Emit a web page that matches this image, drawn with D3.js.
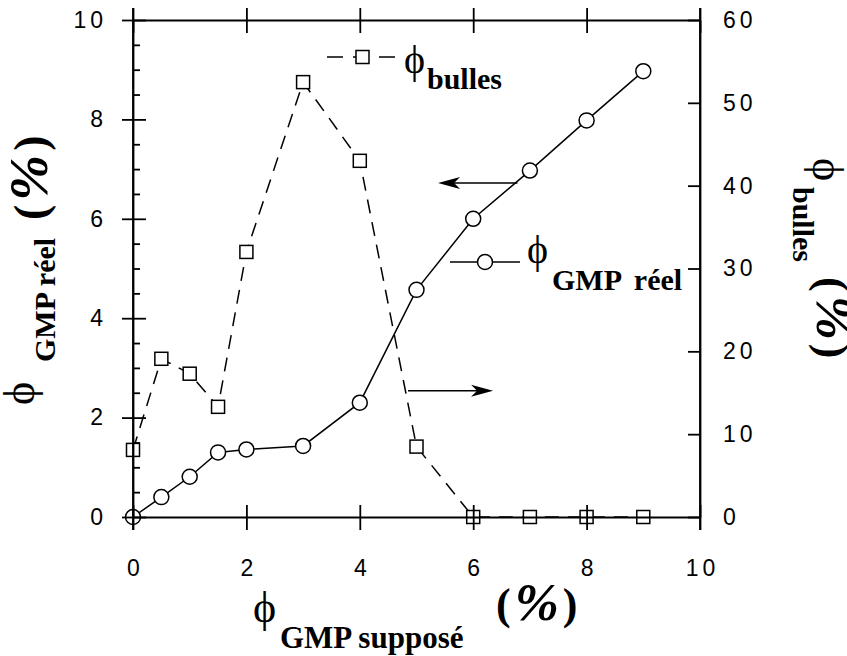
<!DOCTYPE html>
<html>
<head>
<meta charset="utf-8">
<script src="https://cdn.jsdelivr.net/npm/d3@7"></script>
<style>
  body { margin: 0; background: #fff; }
  text { fill: #000; }
</style>
</head>
<body>
<svg id="chart" width="847" height="656"></svg>
<script>
// values
var gmpSuppose = [0, 0.5, 1, 1.5, 2, 3, 4, 5, 6, 7, 8, 9];
var gmpReel = [0, 0.4, 0.81, 1.3, 1.36, 1.43, 2.3, 4.57, 6.0, 6.97, 7.98, 8.97];
var bulles = [8.1, 19.1, 17.3, 13.3, 32.0, 52.5, 43.0, 8.5, 0, 0, 0, 0];
var xTicks = [0, 2, 4, 6, 8, 10];
var yLeftTicks = [0, 2, 4, 6, 8, 10];
var yRightTicks = [0, 10, 20, 30, 40, 50, 60];

var svg = d3.select("#chart");
var plotLeft = 133, plotRight = 700, plotTop = 20, plotBottom = 517;

var x = d3.scaleLinear().domain([0, 10]).range([plotLeft, plotRight]);
var yL = d3.scaleLinear().domain([0, 10]).range([plotBottom, plotTop]);
var yR = d3.scaleLinear().domain([0, 60]).range([plotBottom, plotTop]);

var serif = "'Liberation Serif', 'Times New Roman', 'DejaVu Serif', serif";
var sans = "'Liberation Sans', Arial, Helvetica, sans-serif";

// dashed line for bulles (right axis)
svg.append("path")
    .datum(gmpSuppose.map((d, i) => [d, bulles[i]]))
    .attr("fill", "none")
    .attr("stroke", "#000")
    .attr("stroke-width", 1.5)
    .attr("stroke-dasharray", "14,9")
    .attr("d", d3.line().x(d => x(d[0])).y(d => yR(d[1])));

// solid line for GMP reel (left axis)
svg.append("path")
    .datum(gmpSuppose.map((d, i) => [d, gmpReel[i]]))
    .attr("fill", "none")
    .attr("stroke", "#000")
    .attr("stroke-width", 1.5)
    .attr("d", d3.line().x(d => x(d[0])).y(d => yL(d[1])));

// square markers
svg.selectAll(".sq")
    .data(gmpSuppose)
    .enter().append("rect")
    .attr("class", "sq")
    .attr("x", d => x(d) - 6.5)
    .attr("y", (d, i) => yR(bulles[i]) - 6.5)
    .attr("width", 13)
    .attr("height", 13)
    .attr("fill", "#fff")
    .attr("stroke", "#000")
    .attr("stroke-width", 1.5);

// circle markers
svg.selectAll(".ci")
    .data(gmpSuppose)
    .enter().append("circle")
    .attr("class", "ci")
    .attr("cx", d => x(d))
    .attr("cy", (d, i) => yL(gmpReel[i]))
    .attr("r", 7.5)
    .attr("fill", "#fff")
    .attr("stroke", "#000")
    .attr("stroke-width", 1.5);

// axes (drawn on top, ticks cross the frame)
function styleAxis(g) {
    g.select(".domain").attr("stroke-width", 1.8);
    g.selectAll(".tick line").attr("stroke-width", 1.8);
    g.selectAll("text")
        .style("font-family", sans)
        .style("font-size", "23px")
        .style("letter-spacing", "4px");
}

var gBottom = svg.append("g")
    .attr("transform", `translate(0,${plotBottom})`)
    .call(d3.axisBottom(x).tickValues(xTicks).tickSize(13).tickSizeOuter(0).tickPadding(30).tickFormat(d3.format("d")))
    .call(styleAxis);
gBottom.selectAll(".tick line").attr("y1", -12);
gBottom.selectAll(".tick text").attr("dx", 2);

var gTop = svg.append("g")
    .attr("transform", `translate(0,${plotTop})`)
    .call(d3.axisTop(x).tickValues(xTicks).tickSize(12).tickSizeOuter(0).tickFormat(""))
    .call(styleAxis);
gTop.selectAll(".tick line").attr("y1", 13);

var gLeft = svg.append("g")
    .attr("transform", `translate(${plotLeft},0)`)
    .call(d3.axisLeft(yL).tickValues(yLeftTicks).tickSize(11).tickSizeOuter(0).tickPadding(15).tickFormat(d3.format("d")))
    .call(styleAxis);
gLeft.selectAll(".tick line").attr("x1", 13);

// minor ticks on the left axis
svg.append("g")
    .attr("transform", `translate(${plotLeft},0)`)
    .call(d3.axisRight(yL).tickValues(d3.range(0.5, 10, 0.5).filter(v => v % 2 !== 0)).tickSize(7).tickFormat(""))
    .call(g => g.select(".domain").remove())
    .call(g => g.selectAll(".tick line").attr("stroke-width", 1.8));

var gRight = svg.append("g")
    .attr("transform", `translate(${plotRight},0)`)
    .call(d3.axisLeft(yR).tickValues(yRightTicks).tickSize(12).tickSizeOuter(0).tickFormat(d3.format("d")))
    .call(styleAxis);
gRight.selectAll(".tick text").attr("x", 23).attr("text-anchor", "start");

// frame extends a bit beyond the corners
[plotLeft, plotRight].forEach(function (xx) {
    svg.append("line")
        .attr("x1", xx).attr("x2", xx)
        .attr("y1", plotTop - 12).attr("y2", plotBottom + 13)
        .attr("stroke", "#000").attr("stroke-width", 1.8);
});

// arrows pointing to the matching axis
var arrows = [
    { from: [6.78, 6.72], to: [5.38, 6.72] },
    { from: [4.85, 2.54], to: [6.35, 2.54] }
];
arrows.forEach(function (a) {
    var x1 = x(a.from[0]), x2 = x(a.to[0]), yy = yL(a.from[1]);
    var dir = x2 > x1 ? 1 : -1;
    svg.append("line")
        .attr("x1", x1).attr("x2", x2 - dir * 10)
        .attr("y1", yy).attr("y2", yy)
        .attr("stroke", "#000").attr("stroke-width", 1.5);
    svg.append("path")
        .attr("d", `M${x2},${yy} L${x2 - dir * 22},${yy - 6} L${x2 - dir * 16},${yy} L${x2 - dir * 22},${yy + 6} Z`)
        .attr("fill", "#000");
});

// legend: bulles
svg.append("line")
    .attr("x1", 327).attr("x2", 398).attr("y1", 57).attr("y2", 57)
    .attr("stroke", "#000").attr("stroke-width", 1.5)
    .attr("stroke-dasharray", "16,10");
svg.append("rect")
    .attr("x", 356).attr("y", 50.5).attr("width", 13).attr("height", 13)
    .attr("fill", "#fff").attr("stroke", "#000").attr("stroke-width", 1.5);
svg.append("text").attr("x", 404).attr("y", 73)
    .style("font-family", serif).style("font-size", "40px").text("\u03D5");
svg.append("text").attr("x", 427).attr("y", 89)
    .style("font-family", serif).style("font-size", "30px").style("font-weight", "bold").text("bulles");

// legend: GMP reel
svg.append("line")
    .attr("x1", 450).attr("x2", 520).attr("y1", 262).attr("y2", 262)
    .attr("stroke", "#000").attr("stroke-width", 1.5);
svg.append("circle")
    .attr("cx", 485).attr("cy", 262).attr("r", 7.5)
    .attr("fill", "#fff").attr("stroke", "#000").attr("stroke-width", 1.5);
svg.append("text").attr("x", 527).attr("y", 263)
    .style("font-family", serif).style("font-size", "40px").text("\u03D5");
svg.append("text").attr("x", 552).attr("y", 290)
    .style("font-family", serif).style("font-size", "30px").style("font-weight", "bold")
    .style("word-spacing", "6px").text("GMP réel");

// axis titles built from pieces: [text, local x, local y, size, bold]
function title(tx, ty, rot, parts) {
    var g = svg.append("g").attr("transform", `translate(${tx},${ty}) rotate(${rot})`);
    parts.forEach(function (p) {
        var t = g.append("text")
            .attr("x", p[1]).attr("y", p[2])
            .style("font-family", serif)
            .style("font-size", p[3] + "px")
            .style("font-weight", p[4] ? "bold" : "normal")
            .style("white-space", "pre");
        if (p[0] === "pct") {
            t.append("tspan").style("font-weight", "bold").text("(");
            t.append("tspan").attr("dx", 4).style("font-style", "italic").style("font-weight", "bold")
                .style("font-size", Math.round(p[3] * 1.2) + "px").attr("dy", 1).text("%");
            t.append("tspan").attr("dx", 4).attr("dy", -1).style("font-weight", "bold").text(")");
        } else {
            t.text(p[0]);
        }
    });
}

title(0, 405, -90, [
    ["\u03D5", 0, 34, 44, false],
    ["GMP réel", 43, 55, 30, true],
    ["pct", 185, 46, 46, false]
]);

title(0, 0, 0, [
    ["\u03D5", 253, 622, 44, false],
    ["GMP supposé", 280, 648, 31, true],
    ["pct", 496, 619, 44, false]
]);

title(830, 158, 90, [
    ["\u03D5", 0, 17, 44, false],
    ["bulles", 29, 37, 30, true],
    ["pct", 119, 12, 44, false]
]);
</script>
</body>
</html>
